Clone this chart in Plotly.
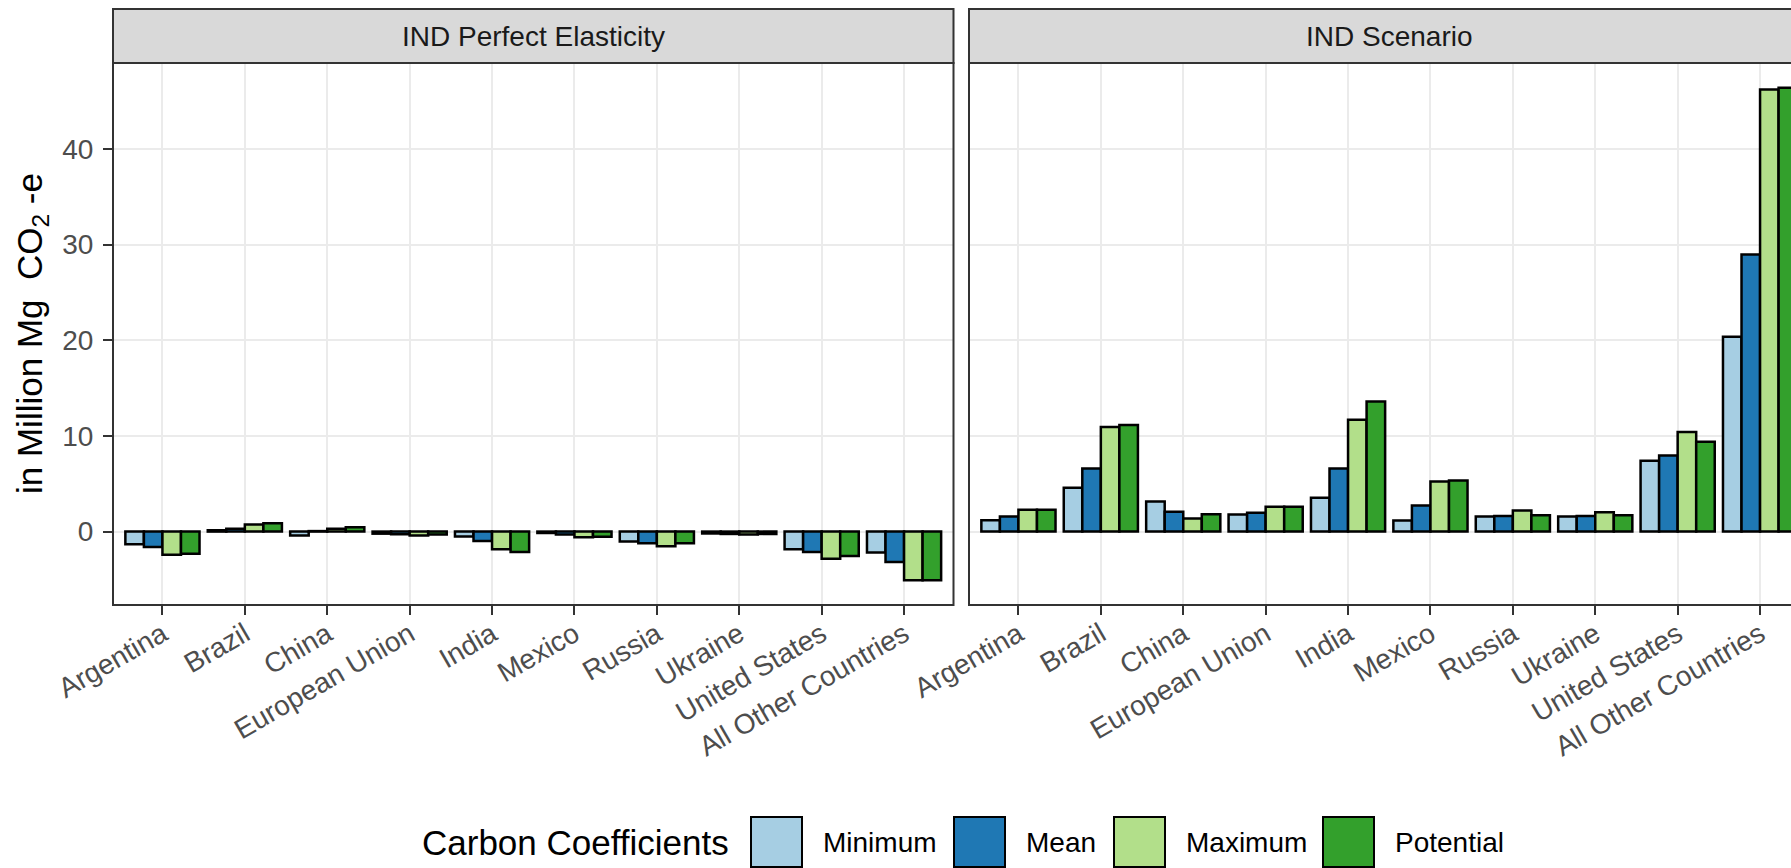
import plotly.graph_objects as go

# ---------------- data ----------------
countries = ["Argentina", "Brazil", "China", "European Union", "India",
             "Mexico", "Russia", "Ukraine", "United States", "All Other Countries"]
panels = ["IND Perfect Elasticity", "IND Scenario"]
series = ["Minimum", "Mean", "Maximum", "Potential"]
colors = ["#A6CEE3", "#1F78B4", "#B2DF8A", "#33A02C"]

pe_minimum = [-1.33, 0.14, -0.42, -0.22, -0.52, -0.15, -1.05, -0.20, -1.85, -2.20]
pe_mean = [-1.60, 0.30, 0.05, -0.28, -0.98, -0.30, -1.22, -0.25, -2.13, -3.18]
pe_maximum = [-2.41, 0.73, 0.30, -0.42, -1.85, -0.60, -1.54, -0.30, -2.83, -5.10]
pe_potential = [-2.31, 0.86, 0.45, -0.30, -2.13, -0.55, -1.22, -0.25, -2.55, -5.10]

sc_minimum = [1.19, 4.58, 3.15, 1.78, 3.53, 1.15, 1.57, 1.57, 7.41, 20.35]
sc_mean = [1.57, 6.60, 2.06, 1.96, 6.60, 2.73, 1.64, 1.64, 7.94, 28.95]
sc_maximum = [2.27, 10.94, 1.36, 2.59, 11.68, 5.24, 2.20, 2.03, 10.42, 46.20]
sc_potential = [2.27, 11.15, 1.82, 2.59, 13.60, 5.35, 1.71, 1.71, 9.40, 46.40]

y_ticks = [0, 10, 20, 30, 40]
y_title = "in Million Mg\u00a0 CO<sub>2</sub> -e"
legend_title = "Carbon Coefficients"

pe_values = [pe_minimum, pe_mean, pe_maximum, pe_potential]
sc_values = [sc_minimum, sc_mean, sc_maximum, sc_potential]

# ---------------- layout geometry (pixels) ----------------
W, H = 1791, 868
FONT = "Liberation Sans"
p1_x0, p1_x1 = 113, 953.5
p2_x0, p2_x1 = 969, 1809.5
py0, py1 = 63, 605          # panel top / bottom
sy0 = 9                      # strip top
unit = (p1_x1 - p1_x0) / 10.2

def px(x):
    return x / W

def py(y):
    return 1 - y / H

allv = [v for s in pe_values + sc_values for v in s]
lo, hi = min(allv), max(allv)
pad = 0.05 * (hi - lo)
yrange = [lo - pad, hi + pad]

fig = go.Figure()
for i, name in enumerate(series):
    fig.add_trace(go.Bar(
        x=countries, y=pe_values[i], name=name, xaxis="x", yaxis="y",
        marker=dict(color=colors[i], line=dict(color="black", width=2.5)),
        showlegend=False))
for i, name in enumerate(series):
    fig.add_trace(go.Bar(
        x=countries, y=sc_values[i], name=name, xaxis="x2", yaxis="y2",
        marker=dict(color=colors[i], line=dict(color="black", width=2.5)),
        showlegend=False))

axis_common = dict(
    showgrid=True, gridcolor="#EBEBEB", gridwidth=2,
    zeroline=False, showline=False,
    ticks="outside", ticklen=9, tickwidth=2, tickcolor="#333333",
    automargin=False,
)

xfont = dict(family=FONT, size=28, color="#4D4D4D")
fig.update_layout(
    width=W, height=H, autosize=False,
    margin=dict(l=0, r=0, t=0, b=0),
    paper_bgcolor="white", plot_bgcolor="white",
    barmode="group", bargap=0.1, bargroupgap=0,
    font=dict(family=FONT),
    xaxis=dict(domain=[px(p1_x0), px(p1_x1)], anchor="y",
               range=[-0.6, 9.6], type="category",
               categoryorder="array", categoryarray=countries,
               tickangle=-30, tickfont=xfont, ticklabelstandoff=-8,
               **axis_common),
    xaxis2=dict(domain=[px(p2_x0), 1.0], anchor="y2",
                range=[-0.6, -0.6 + (W - p2_x0) / unit], type="category",
                categoryorder="array", categoryarray=countries,
                tickangle=-30, tickfont=xfont, ticklabelstandoff=-8,
                **axis_common),
    yaxis=dict(domain=[py(py1), py(py0)], anchor="x", range=yrange,
               tickvals=y_ticks, tickfont=xfont, ticklabelstandoff=4,
               **axis_common),
    yaxis2=dict(domain=[py(py1), py(py0)], anchor="x2", range=yrange,
                tickvals=y_ticks, showticklabels=False,
                showgrid=True, gridcolor="#EBEBEB", gridwidth=2,
                zeroline=False, ticks="", automargin=False),
)

shapes = []
annotations = []
# panel borders and strips
for (x0, x1), title in zip([(p1_x0, p1_x1), (p2_x0, p2_x1)], panels):
    shapes.append(dict(type="rect", xref="paper", yref="paper",
                       x0=px(x0), x1=px(x1), y0=py(py1), y1=py(py0),
                       line=dict(color="#333333", width=2),
                       fillcolor="rgba(0,0,0,0)", layer="above"))
    shapes.append(dict(type="rect", xref="paper", yref="paper",
                       x0=px(x0), x1=px(x1), y0=py(py0), y1=py(sy0),
                       line=dict(color="#333333", width=2),
                       fillcolor="#D9D9D9", layer="above"))
    annotations.append(dict(text=title, xref="paper", yref="paper",
                            x=px((x0 + x1) / 2), y=py((sy0 + py0) / 2),
                            xanchor="center", yanchor="middle", showarrow=False,
                            font=dict(family=FONT, size=28, color="#1A1A1A")))

# y-axis title
annotations.append(dict(text=y_title, xref="paper", yref="paper",
                        x=px(32), y=py((py0 + py1) / 2), textangle=-90,
                        xanchor="center", yanchor="middle", showarrow=False,
                        font=dict(family=FONT, size=35, color="black")))

# legend (drawn manually to mimic the large ggplot keys)
leg_cy = 842
annotations.append(dict(text=legend_title, xref="paper", yref="paper",
                        x=px(420), y=py(leg_cy), xanchor="left", yanchor="middle",
                        showarrow=False, font=dict(family=FONT, size=35, color="black")))
key_x = [751, 954, 1114, 1323]
for kx, name, col in zip(key_x, series, colors):
    shapes.append(dict(type="rect", xref="paper", yref="paper",
                       x0=px(kx), x1=px(kx + 51), y0=py(867), y1=py(817),
                       line=dict(color="black", width=2), fillcolor=col))
    annotations.append(dict(text=name, xref="paper", yref="paper",
                            x=px(kx + 70), y=py(leg_cy), xanchor="left", yanchor="middle",
                            showarrow=False, font=dict(family=FONT, size=28, color="black")))

fig.update_layout(shapes=shapes, annotations=annotations)
fig.write_html(
    "out.html",
    config={"displayModeBar": False},
    post_script="document.body.style.margin='0';document.body.style.overflow='hidden';",
)
